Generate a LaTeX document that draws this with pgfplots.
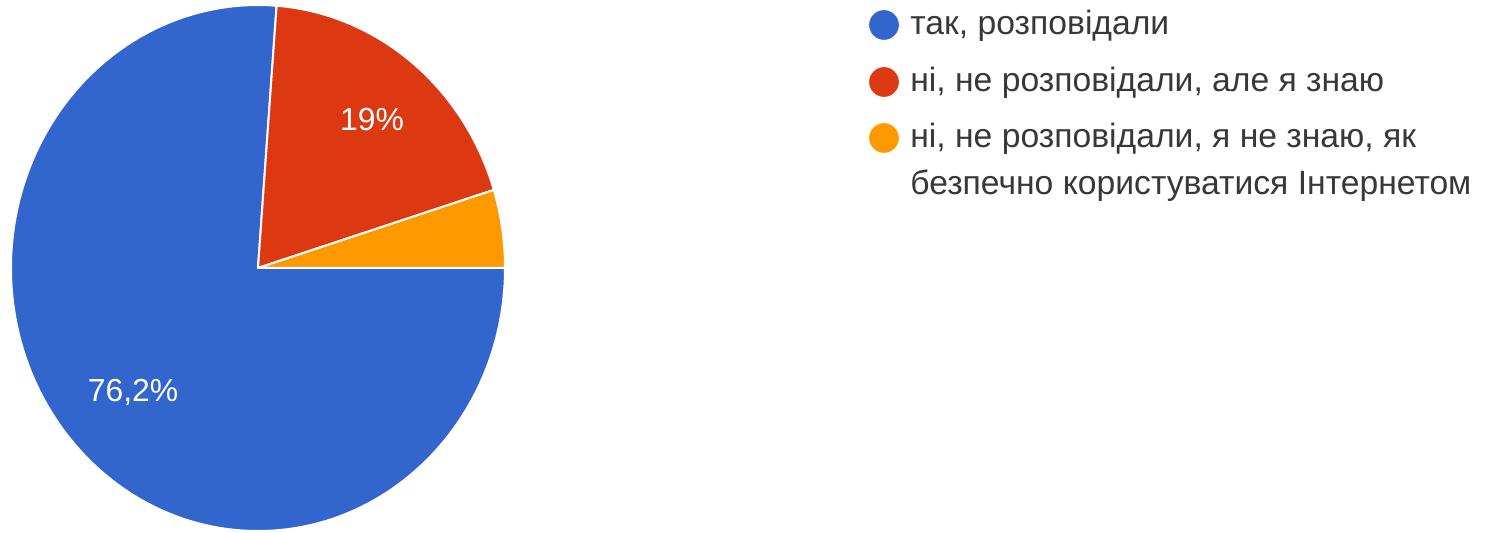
\documentclass[border=0pt]{standalone}
\usepackage{pgfplots}
\pgfplotsset{compat=1.18}
\usepackage{fontspec}
\setmainfont{Liberation Sans}

\definecolor{gblue}{HTML}{3366CC}
\definecolor{gred}{HTML}{DC3912}
\definecolor{gorange}{HTML}{FF9900}
\definecolor{txtgray}{HTML}{383838}

% shares in percent
\def\va{76.2}
\def\vb{19}
\def\vc{4.8}

% centre and radii of the pie, in pixel units (1 px = 0.5bp)
\def\cx{258}
\def\cy{265}
\def\rx{247}
\def\ry{263}

% one slice from angle #2 down to angle #3
\newcommand{\pieslice}[3]{%
  \pgfmathsetmacro{\px}{\cx+\rx*cos(#2)}%
  \pgfmathsetmacro{\py}{\cy+\ry*sin(#2)}%
  \pgfmathsetmacro{\rxbp}{0.5*\rx}%
  \pgfmathsetmacro{\rybp}{0.5*\ry}%
  \edef\tmp{\noexpand\filldraw[fill=#1, draw=white, line width=1bp, line join=round]
    (axis cs:\cx,\cy) -- (axis cs:\px,\py)
    arc[start angle=#2, end angle=#3, x radius=\rxbp bp, y radius=\rybp bp] -- cycle;}%
  \tmp
}

\begin{document}
\begin{tikzpicture}
\begin{axis}[
    width=743.5bp, height=266.5bp,
    scale only axis,
    xmin=0, xmax=1487, ymin=0, ymax=533,
    hide axis,
    clip=false,
]
\addplot[draw=none] coordinates {(0,0) (1487,533)};

\pgfmathsetmacro{\aA}{0}
\pgfmathsetmacro{\aB}{-3.6*\va}
\pgfmathsetmacro{\aC}{360-3.6*\va}
\pgfmathsetmacro{\aD}{\aC-3.6*\vb}
\pgfmathsetmacro{\aE}{\aD-3.6*\vc}

\pieslice{gblue}{\aA}{\aB}
\pieslice{gred}{\aC}{\aD}
\pieslice{gorange}{\aD}{\aE}

\node[text=white, font=\fontsize{16}{19}\selectfont] at (axis cs:133,141) {76,2\%};
\node[text=white, font=\fontsize{16}{19}\selectfont] at (axis cs:372,413) {19\%};

% legend
\addplot[only marks, mark=*, mark size=7.2bp, color=gblue] coordinates {(884,508)};
\addplot[only marks, mark=*, mark size=7.2bp, color=gred] coordinates {(884,451)};
\addplot[only marks, mark=*, mark size=7.2bp, color=gorange] coordinates {(884,395)};

\begin{scope}[every node/.style={anchor=base west, text=txtgray, font=\fontsize{16.9}{20}\selectfont, inner sep=0pt}]
\node at (axis cs:910,498) {так, розповідали};
\node at (axis cs:910,441) {ні, не розповідали, але я знаю};
\node at (axis cs:910,385) {ні, не розповідали, я не знаю, як};
\node at (axis cs:910,338) {безпечно користуватися Інтернетом};
\end{scope}
\end{axis}
\end{tikzpicture}
\end{document}
